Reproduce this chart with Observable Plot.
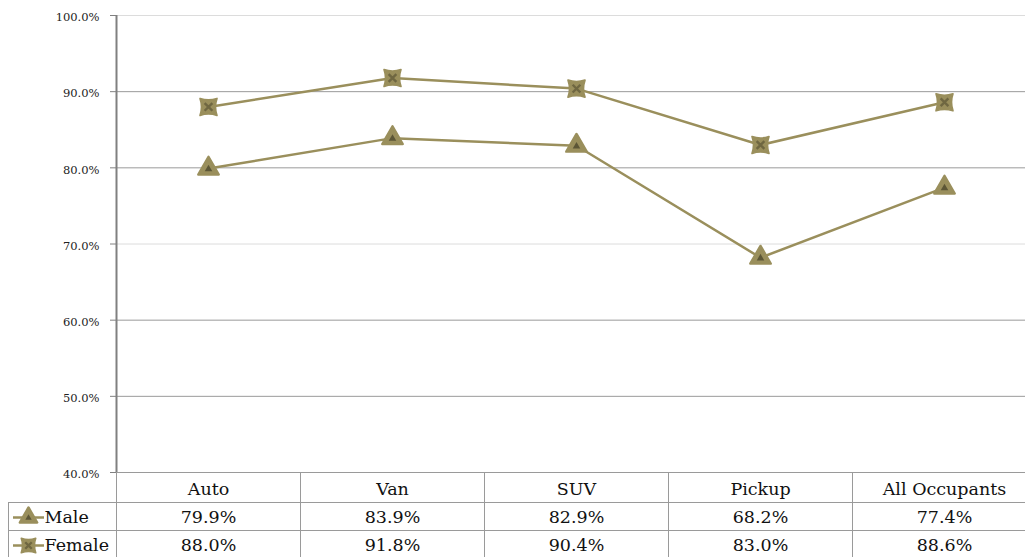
<!DOCTYPE html>
<html>
<head>
<meta charset="utf-8">
<script src="https://cdn.jsdelivr.net/npm/d3@7"></script>
<script src="https://cdn.jsdelivr.net/npm/@observablehq/plot@0.6"></script>
<style>
  html, body { margin: 0; padding: 0; background: #fff; overflow: hidden; }
  #chart { width: 1025px; height: 557px; overflow: hidden; }
  #chart svg { max-width: none !important; }
</style>
</head>
<body>
<div id="chart"></div>
<script>
// Seat belt use rate by vehicle type, male vs female occupants
const categories = ["Auto", "Van", "SUV", "Pickup", "All Occupants"];
const male = [79.9, 83.9, 82.9, 68.2, 77.4];
const female = [88.0, 91.8, 90.4, 83.0, 88.6];
const yTicks = [40, 50, 60, 70, 80, 90, 100];
const lightGrid = [100, 70];
const darkGrid = [40, 50, 60, 80, 90];

const olive = "#9a8f5c";
const oliveDark = "#5c5636";
const gridGray = "#9a9a9a";
const serif = "DejaVu Serif, Liberation Serif, serif";

const maleRows = categories.map((cat, i) => ({cat, value: male[i]}));
const femaleRows = categories.map((cat, i) => ({cat, value: female[i]}));
const pct = (v) => v.toFixed(1) + "%";

// square marker with slightly pinched sides
const pinchedSquare = {
  draw(ctx, size) {
    const r = Math.sqrt(size) / 2;
    const k = r * 0.35;
    ctx.moveTo(-r, -r);
    ctx.quadraticCurveTo(0, -r + k, r, -r);
    ctx.quadraticCurveTo(r - k, 0, r, r);
    ctx.quadraticCurveTo(0, r - k, -r, r);
    ctx.quadraticCurveTo(-r + k, 0, -r, -r);
    ctx.closePath();
  }
};

const W = 1036, H = 557, ML = 116, MT = 15, MB = 85;
const bandHalf = (W - ML) / categories.length / 2;

// marker layers for a series, either on the scales or at a frame offset
function triangleMarks(data, opts, scale = 1) {
  return [
    Plot.dot(data, {...opts, symbol: "triangle", r: 7.6 * scale, fill: olive, stroke: olive, strokeWidth: 2.4, strokeLinejoin: "round"}),
    Plot.dot(data, {...opts, symbol: "triangle", r: 2.8 * scale, fill: oliveDark, dy: (opts.dy || 0) + 0.5})
  ];
}
function squareMarks(data, opts, scale = 1) {
  return [
    Plot.dot(data, {...opts, symbol: pinchedSquare, r: 9.6 * scale, fill: olive, stroke: olive, strokeWidth: 1.6, strokeLinejoin: "round"}),
    Plot.dot(data, {...opts, symbol: "times", r: 3.6 * scale, stroke: oliveDark, strokeWidth: 2.4, strokeOpacity: 0.7})
  ];
}

const legendLine = (dy) => Plot.ruleY([40], {dy, insetLeft: -103, insetRight: (W - ML) + (ML - 44), stroke: olive, strokeWidth: 2.5});
const legendAnchor = (dy) => ({frameAnchor: "bottom-left", dx: -88, dy});
const cellText = {frameAnchor: "bottom", lineAnchor: "middle", fontSize: 17.5, fill: "#111"};

const chart = Plot.plot({
  width: W,
  height: H,
  marginLeft: ML,
  marginRight: 0,
  marginTop: MT,
  marginBottom: MB,
  style: {fontFamily: serif, fontSize: "11.5px", background: "#fff", color: "#222"},
  x: {type: "band", domain: categories, padding: 0, axis: null},
  y: {domain: [40, 100], axis: null},
  marks: [
    // horizontal gridlines
    Plot.ruleY(lightGrid, {stroke: "#dcdcdc", strokeWidth: 1}),
    Plot.ruleY(darkGrid, {stroke: gridGray, strokeWidth: 1}),
    // y axis ticks, then labels sitting just below each gridline
    Plot.axisY({ticks: yTicks, tickSize: 6, tickFormat: () => "", stroke: "#808080", label: null}),
    Plot.axisY({ticks: yTicks, tickSize: 0, tickPadding: 17, tickFormat: pct, fill: "#222", label: null, dy: 2}),
    // data table borders
    Plot.ruleX(categories, {dx: -bandHalf, insetTop: (H - MT - MB), insetBottom: -MB, stroke: gridGray}),
    Plot.ruleY([40], {dy: 30, insetLeft: -108, stroke: gridGray}),
    Plot.ruleY([40], {dy: 58, insetLeft: -108, stroke: gridGray}),
    Plot.ruleX([categories[0]], {dx: -bandHalf - 108, insetTop: (H - MT - MB) + 30, insetBottom: -MB, stroke: gridGray}),
    // y axis line
    Plot.ruleX([categories[0]], {dx: -bandHalf, stroke: "#808080", strokeWidth: 2}),
    // series lines
    Plot.line(femaleRows, {x: "cat", y: "value", stroke: olive, strokeWidth: 2.5}),
    Plot.line(maleRows, {x: "cat", y: "value", stroke: olive, strokeWidth: 2.5}),
    ...squareMarks(femaleRows, {x: "cat", y: "value"}),
    ...triangleMarks(maleRows, {x: "cat", y: "value"}),
    // data table text
    Plot.text(categories, {...cellText, x: (d) => d, dy: 17, text: (d) => d}),
    Plot.text(maleRows, {...cellText, x: "cat", dy: 45, text: (d) => pct(d.value)}),
    Plot.text(femaleRows, {...cellText, x: "cat", dy: 73, text: (d) => pct(d.value)}),
    // series keys in the table's first column
    legendLine(45),
    ...triangleMarks([0], legendAnchor(45), 0.85),
    Plot.text(["Male"], {...cellText, frameAnchor: "bottom-left", dx: -72, dy: 45, textAnchor: "start", text: (d) => d}),
    legendLine(73),
    ...squareMarks([0], legendAnchor(73), 0.85),
    Plot.text(["Female"], {...cellText, frameAnchor: "bottom-left", dx: -72, dy: 73, textAnchor: "start", text: (d) => d})
  ]
});

document.getElementById("chart").appendChild(chart);
</script>
</body>
</html>
